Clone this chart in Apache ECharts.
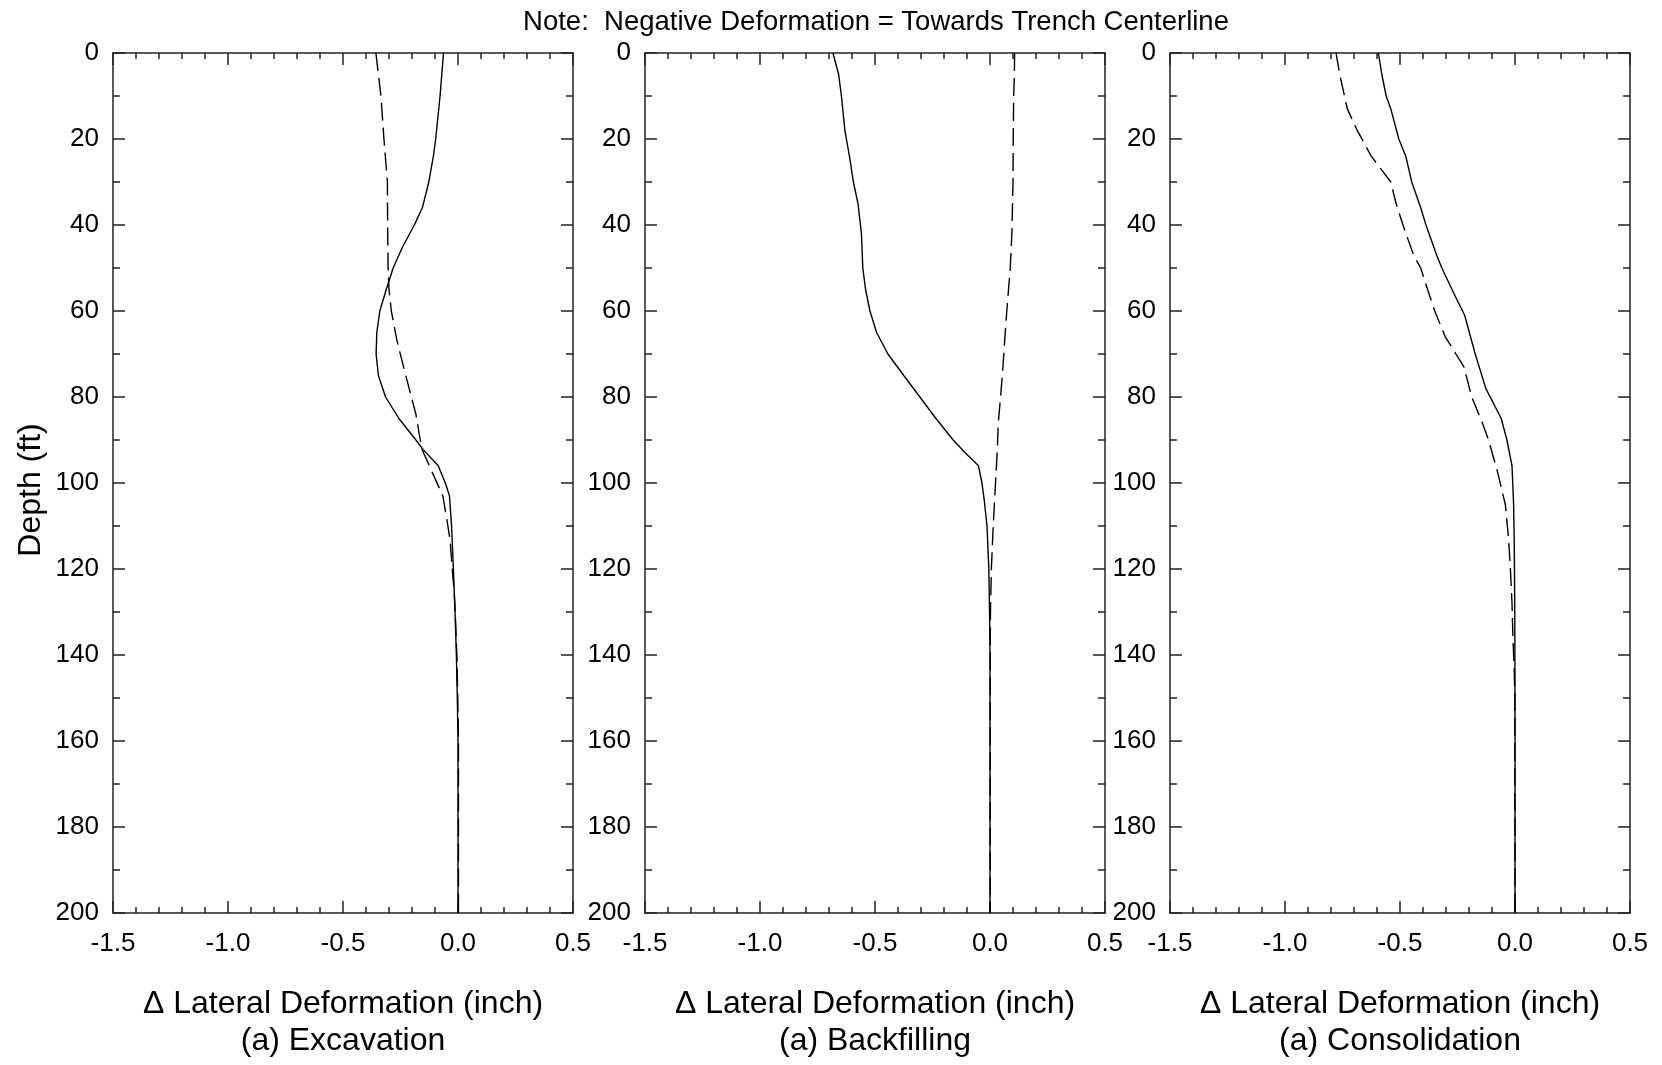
<!DOCTYPE html>
<html>
<head>
<meta charset="utf-8">
<title>Lateral Deformation Profiles</title>
<script src="https://cdn.jsdelivr.net/npm/echarts@6/dist/echarts.min.js"></script>
<style>
  html, body { margin: 0; padding: 0; background: #fff; }
  #chart { width: 1662px; height: 1065px; }
</style>
</head>
<body>
<div id="chart"></div>
<script>
// ---- axis ticks ----
const deformTicks = [-1.5, -1.0, -0.5, 0.0, 0.5];
const depthTicks = [0, 20, 40, 60, 80, 100, 120, 140, 160, 180, 200];

// ---- stage names ----
const stages = ['(a) Excavation', '(a) Backfilling', '(a) Consolidation'];

// ---- Excavation ----
const excSolidDepth = [0, 10, 20, 24, 30, 36, 40, 45, 50, 55, 60, 65, 70, 75, 80, 85, 90, 92, 96, 100, 103, 110, 120, 130, 140, 150, 160, 200];
const excSolidDefl  = [-0.063, -0.078, -0.097, -0.107, -0.127, -0.155, -0.190, -0.240, -0.282, -0.312, -0.340, -0.353, -0.356, -0.346, -0.315, -0.257, -0.183, -0.155, -0.086, -0.055, -0.037, -0.028, -0.020, -0.013, -0.007, -0.003, 0.000, 0.000];
const excDashDepth  = [0, 10, 20, 30, 40, 50, 55, 60, 67, 74, 84, 92, 98, 103, 108, 113, 120, 125, 130, 140, 150, 160, 200];
const excDashDefl   = [-0.357, -0.335, -0.322, -0.307, -0.306, -0.304, -0.300, -0.290, -0.265, -0.232, -0.183, -0.158, -0.108, -0.066, -0.050, -0.035, -0.025, -0.017, -0.012, -0.005, -0.001, 0.002, 0.002];

// ---- Backfilling ----
const bfSolidDepth = [0, 5, 10, 18, 25, 30, 35, 42, 50, 55, 60, 65, 70, 75, 80, 85, 90, 93, 96, 100, 104, 110, 120, 130, 140, 200];
const bfSolidDefl  = [-0.683, -0.658, -0.646, -0.631, -0.608, -0.594, -0.574, -0.559, -0.553, -0.541, -0.522, -0.493, -0.444, -0.375, -0.305, -0.235, -0.160, -0.107, -0.050, -0.035, -0.025, -0.013, -0.005, -0.002, 0.000, 0.000];
const bfDashDepth  = [0, 5, 10, 20, 30, 42, 50, 60, 66, 74, 80, 86, 92, 100, 110, 120, 130, 140, 200];
const bfDashDefl   = [0.107, 0.106, 0.103, 0.101, 0.100, 0.095, 0.088, 0.073, 0.065, 0.055, 0.046, 0.036, 0.032, 0.024, 0.014, 0.006, 0.002, 0.001, 0.001];

// ---- Consolidation ----
const conSolidDepth = [0, 5, 10, 13, 20, 24, 30, 36, 40, 47, 50, 56, 61, 70, 78, 85, 90, 96, 105, 115, 130, 150, 200];
const conSolidDefl  = [-0.594, -0.579, -0.560, -0.540, -0.505, -0.475, -0.449, -0.410, -0.387, -0.341, -0.318, -0.265, -0.219, -0.173, -0.127, -0.060, -0.035, -0.013, -0.006, -0.003, -0.001, 0.000, 0.000];
const conDashDepth  = [0, 5, 13, 18, 24, 30, 35, 40, 47, 50, 55, 60, 66, 70, 73, 80, 86, 90, 97, 105, 113, 120, 128, 136, 144, 150, 200];
const conDashDefl   = [-0.778, -0.762, -0.729, -0.686, -0.625, -0.540, -0.517, -0.487, -0.441, -0.410, -0.380, -0.349, -0.303, -0.257, -0.222, -0.188, -0.142, -0.115, -0.078, -0.042, -0.028, -0.020, -0.013, -0.009, -0.003, -0.001, 0.000];

const FONT = '"Liberation Sans", Arial, Helvetica, sans-serif';
const AXIS_COLOR = '#222';

function pairs(defl, depth) {
  return defl.map((v, i) => [v, depth[i]]);
}

const panels = [
  { solid: pairs(excSolidDefl, excSolidDepth), dash: pairs(excDashDefl, excDashDepth) },
  { solid: pairs(bfSolidDefl, bfSolidDepth),   dash: pairs(bfDashDefl, bfDashDepth) },
  { solid: pairs(conSolidDefl, conSolidDepth), dash: pairs(conDashDefl, conDashDepth) }
];

const gridLefts = [113, 645, 1170];
const grid = gridLefts.map(l => ({ left: l, top: 53, width: 460, height: 864 }));

const tickLabel = { color: '#000', fontSize: 26, fontFamily: FONT };
const axisLine = { show: true, onZero: false, lineStyle: { color: AXIS_COLOR, width: 1.5 } };

const xAxis = [];
const yAxis = [];
gridLefts.forEach((_, i) => {
  const common = {
    type: 'value', gridIndex: i,
    min: deformTicks[0], max: deformTicks[deformTicks.length - 1], interval: 0.5,
    axisLine,
    axisTick: { show: true, inside: true, length: 12, lineStyle: { color: AXIS_COLOR, width: 1.5 } },
    minorTick: { show: true, splitNumber: 5, length: 6, lineStyle: { color: AXIS_COLOR, width: 1.5 } },
    splitLine: { show: false }
  };
  xAxis.push(Object.assign({}, common, {
    position: 'bottom',
    axisLabel: Object.assign({ margin: 18, formatter: v => v.toFixed(1) }, tickLabel),
    name: 'Δ Lateral Deformation (inch)\n' + stages[i],
    nameLocation: 'middle',
    nameGap: 73,
    nameTextStyle: { color: '#000', fontSize: 32, lineHeight: 37, fontFamily: FONT }
  }));
  xAxis.push(Object.assign({}, common, {
    position: 'top',
    axisLabel: { show: false }
  }));

  const ycommon = {
    type: 'value', gridIndex: i, inverse: true,
    min: depthTicks[0], max: depthTicks[depthTicks.length - 1], interval: 20,
    axisLine,
    axisTick: { show: true, inside: true, length: 12, lineStyle: { color: AXIS_COLOR, width: 1.5 } },
    minorTick: { show: true, splitNumber: 2, length: 7, lineStyle: { color: AXIS_COLOR, width: 1.5 } },
    splitLine: { show: false }
  };
  const left = Object.assign({}, ycommon, {
    position: 'left',
    axisLabel: Object.assign({ margin: 14 }, tickLabel)
  });
  if (i === 0) {
    Object.assign(left, {
      name: 'Depth (ft)', nameLocation: 'middle', nameRotate: 90, nameGap: 66,
      nameTextStyle: { color: '#000', fontSize: 32, fontFamily: FONT, padding: [0, 14, 0, 0] }
    });
  }
  yAxis.push(left);
  yAxis.push(Object.assign({}, ycommon, { position: 'right', axisLabel: { show: false } }));
});

const series = [];
panels.forEach((p, i) => {
  series.push({
    type: 'line', xAxisIndex: 2 * i, yAxisIndex: 2 * i, data: p.solid,
    showSymbol: false, silent: true, animation: false,
    lineStyle: { color: '#000', width: 1.4, type: 'solid' }
  });
  series.push({
    type: 'line', xAxisIndex: 2 * i, yAxisIndex: 2 * i, data: p.dash,
    showSymbol: false, silent: true, animation: false,
    lineStyle: { color: '#000', width: 1.4, type: [18, 7] }
  });
});

const chart = echarts.init(document.getElementById('chart'), null, { renderer: 'canvas' });
chart.setOption({
  backgroundColor: '#fff',
  animation: false,
  grid, xAxis, yAxis, series,
  graphic: [{
    type: 'text', x: 876, y: 22,
    style: {
      text: 'Note:  Negative Deformation = Towards Trench Centerline',
      fill: '#000', font: '27.5px ' + FONT,
      align: 'center', verticalAlign: 'middle',
      textAlign: 'center', textVerticalAlign: 'middle'
    }
  }]
});
</script>
</body>
</html>
